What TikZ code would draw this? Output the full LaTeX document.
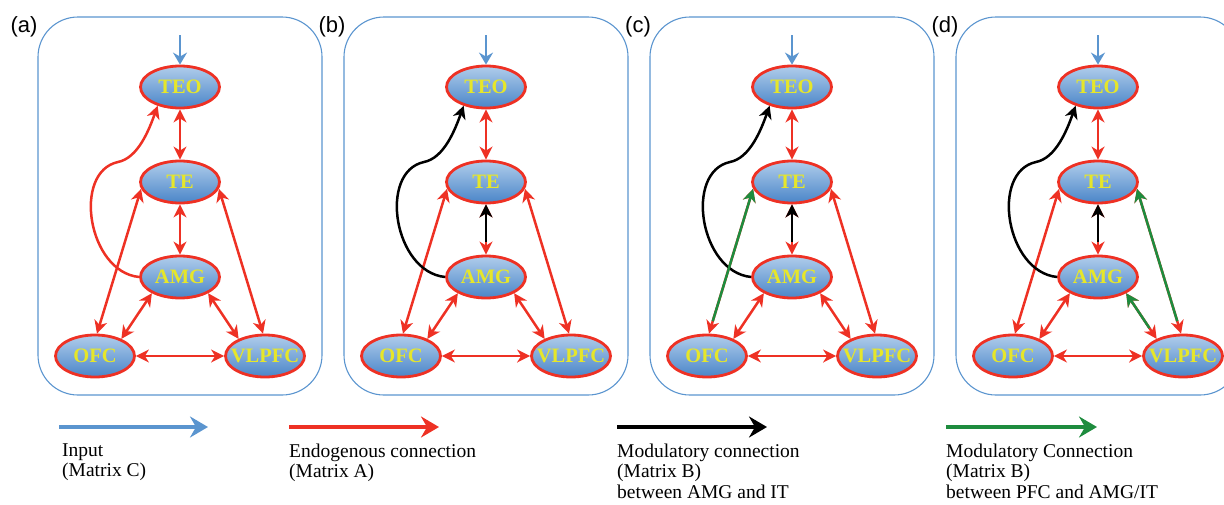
\documentclass[tikz,border=0pt]{standalone}
\usepackage{fontspec}
\setmainfont{Liberation Serif}
\setsansfont{Liberation Sans}
\usetikzlibrary{shapes.geometric,arrows.meta,calc}

\definecolor{inputblue}{HTML}{5B95CF}
\definecolor{endored}{HTML}{EE3124}
\definecolor{pfcgreen}{HTML}{1E8C3E}
\definecolor{regtop}{HTML}{B0CDEB}
\definecolor{regbot}{HTML}{4A85C8}
\definecolor{regtext}{HTML}{E6E62A}

\tikzset{
  endtip/.tip={Stealth[length=13pt,width=13pt,inset=4pt]},
  bigtip/.tip={Stealth[length=18pt,width=21pt,inset=6pt]},
  region/.style={ellipse, draw=endored, line width=2.8pt,
    top color=regtop, bottom color=regbot,
    minimum width=79pt, minimum height=42pt, inner sep=0pt,
    text=regtext, font=\fontsize{20.5}{20.5}\selectfont\bfseries},
  panelbox/.style={draw=inputblue, line width=1.1pt, rounded corners=40pt},
  tag/.style={font=\sffamily\fontsize{22}{22}\selectfont, inner sep=0pt},
  input/.style={draw=inputblue, line width=2.8pt,
    -{Stealth[length=12pt,width=14pt,inset=4pt]}},
  endo/.style={draw=endored, line width=2.5pt, endtip-endtip},
  endoone/.style={draw=endored, line width=2.5pt, -endtip},
  amgmod/.style={draw=black, line width=2.5pt, -endtip},
  pfcmod/.style={draw=pfcgreen, line width=2.5pt, -endtip},
  legarrow/.style={line width=4pt, -bigtip},
  legtext/.style={anchor=north west, inner sep=0pt, align=left,
    font=\fontsize{19.5}{20.5}\selectfont},
}

% region name that does not widen its ellipse
\newcommand{\regname}[1]{\makebox[0pt]{#1}}

% one panel: #1 suffix, #2 shift, #3 style of the AMG->TEO curve
\newcommand{\brainpanel}[3]{%
  \begin{scope}[xshift=#2pt]
    \draw[panelbox] (38,17) rectangle (322,395);
    \node[region] (teo#1) at (180,87) {\regname{TEO}};
    \node[region] (te#1) at (180,182) {\regname{TE}};
    \node[region] (amg#1) at (180,277) {\regname{AMG}};
    \node[region] (ofc#1) at (95,356) {\regname{OFC}};
    \node[region] (vlpfc#1) at (265,356) {\regname{VLPFC}};
    \coordinate (in#1) at (180,35);
    \draw[input] (in#1) -- (teo#1.north);
    \draw[endo] (teo#1) -- (te#1);
    \draw[endo] (te#1) -- (amg#1);
    \draw[endo] (te#1.190) -- (ofc#1.85);
    \draw[endo] (te#1.-10) -- (vlpfc#1.95);
    \draw[endo] (amg#1.210) -- (ofc#1.33);
    \draw[endo] (amg#1.-30) -- (vlpfc#1.147);
    \draw[endo] (ofc#1) -- (vlpfc#1);
    \draw[#3] (amg#1.west) .. controls (88,272) and (72,172) .. (118,162)
      .. controls (138,158) and (149,130) .. (teo#1.220);
  \end{scope}}

\begin{document}
\begin{tikzpicture}[x=1pt,y=-1pt]
  \useasboundingbox (0,0) rectangle (1224,504);

  % panels
  \brainpanel{-a}{0}{endoone}
  \brainpanel{-b}{306}{amgmod}
  \brainpanel{-c}{612}{amgmod}
  \brainpanel{-d}{918}{amgmod}

  \node[tag] (tag-a) at (24,27) {(a)};
  \node[tag] (tag-b) at (332,27) {(b)};
  \node[tag] (tag-c) at (638,27) {(c)};
  \node[tag] (tag-d) at (945,27) {(d)};

  % modulatory overlays
  \draw[amgmod] ([yshift=13pt]amg-b.north) -- (te-b.south);
  \draw[amgmod] ([yshift=13pt]amg-c.north) -- (te-c.south);
  \draw[amgmod] ([yshift=13pt]amg-d.north) -- (te-d.south);
  \draw[pfcmod] ($(ofc-c.85)!13pt!(te-c.190)$) -- (te-c.190);
  \draw[pfcmod] ($(vlpfc-d.95)!13pt!(te-d.-10)$) -- (te-d.-10);
  \draw[pfcmod] ($(vlpfc-d.147)!13pt!(amg-d.-30)$) -- (amg-d.-30);

  % legend
  \coordinate (c-from) at (59,427);   \coordinate (c-to) at (208,427);
  \coordinate (a-from) at (289,427);  \coordinate (a-to) at (439,427);
  \coordinate (b-from) at (617,427);  \coordinate (b-to) at (767,427);
  \coordinate (g-from) at (946,427);  \coordinate (g-to) at (1097,427);
  \draw[legarrow, inputblue] (c-from) -- (c-to);
  \draw[legarrow, endored] (a-from) -- (a-to);
  \draw[legarrow, black] (b-from) -- (b-to);
  \draw[legarrow, pfcgreen] (g-from) -- (g-to);

  \node[legtext] (leg-c) at (62,443.5) {Input\\(Matrix C)};
  \node[legtext] (leg-a) at (289,443.5) {Endogenous connection\\(Matrix A)};
  \node[legtext] (leg-b) at (617,443.5) {Modulatory connection\\(Matrix B)\\between AMG and IT};
  \node[legtext] (leg-g) at (946,443.5) {Modulatory Connection\\(Matrix B)\\between PFC and AMG/IT};
\end{tikzpicture}
\end{document}
